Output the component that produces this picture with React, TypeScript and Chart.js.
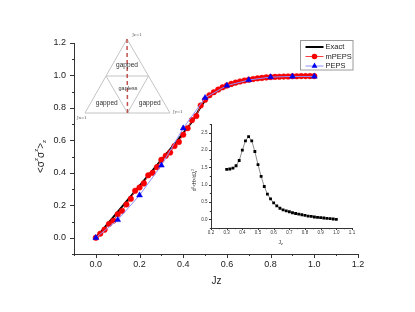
import React, { useEffect, useRef } from 'react';
import { Chart, registerables } from 'chart.js';

Chart.register(...registerables);

// ---- Main chart data ----
const exactJz = [0, 0.1, 0.2, 0.3, 0.4, 0.45, 0.475, 0.5, 0.525, 0.55, 0.6, 0.65, 0.7, 0.8, 0.9, 1.0];
const exactVal = [0, 0.16, 0.32, 0.48, 0.645, 0.735, 0.795, 0.845, 0.88, 0.9, 0.93, 0.952, 0.968, 0.985, 0.994, 0.998];

const mpepsJz = [0, 0.02, 0.04, 0.06, 0.08, 0.1, 0.12, 0.14, 0.16, 0.18, 0.2, 0.22, 0.24, 0.26, 0.28, 0.3, 0.32, 0.34, 0.36, 0.38, 0.4, 0.42, 0.44, 0.46, 0.48, 0.5, 0.52, 0.54, 0.56, 0.58, 0.6, 0.62, 0.64, 0.66, 0.68, 0.7, 0.72, 0.74, 0.76, 0.78, 0.8, 0.82, 0.84, 0.86, 0.88, 0.9, 0.92, 0.94, 0.96, 0.98, 1.0];
const mpepsVal = [0.0, 0.025, 0.05, 0.085, 0.105, 0.145, 0.165, 0.205, 0.24, 0.29, 0.31, 0.335, 0.385, 0.4, 0.435, 0.48, 0.505, 0.525, 0.565, 0.59, 0.635, 0.675, 0.725, 0.75, 0.815, 0.85, 0.878, 0.897, 0.913, 0.927, 0.938, 0.948, 0.956, 0.963, 0.969, 0.974, 0.978, 0.982, 0.985, 0.988, 0.99, 0.991, 0.992, 0.993, 0.994, 0.995, 0.995, 0.996, 0.996, 0.996, 0.996];

const pepsJz = [0, 0.1, 0.2, 0.3, 0.4, 0.5, 0.6, 0.7, 0.8, 0.9, 1.0];
const pepsVal = [0, 0.11, 0.262, 0.446, 0.675, 0.862, 0.938, 0.972, 0.99, 0.994, 0.994];

const seriesLabels = ['Exact', 'mPEPS', 'PEPS'];

// ---- Inset data ----
const insetJz = [0.3, 0.32, 0.34, 0.36, 0.38, 0.4, 0.42, 0.44, 0.46, 0.48, 0.5, 0.52, 0.54, 0.56, 0.58, 0.6, 0.62, 0.64, 0.66, 0.68, 0.7, 0.72, 0.74, 0.76, 0.78, 0.8, 0.82, 0.84, 0.86, 0.88, 0.9, 0.92, 0.94, 0.96, 0.98, 1.0];
const insetVal = [1.445, 1.455, 1.48, 1.55, 1.7, 2.0, 2.27, 2.39, 2.27, 1.96, 1.58, 1.24, 0.95, 0.73, 0.59, 0.475, 0.39, 0.32, 0.276, 0.247, 0.22, 0.19, 0.17, 0.152, 0.133, 0.114, 0.095, 0.086, 0.067, 0.057, 0.048, 0.038, 0.029, 0.019, 0.01, 0.0];

// ---- Diagram texts ----
const diagramRegions = ['gapped', 'gapless', 'gapped', 'gapped'];
const diagramCorners = ['Jz=1', 'Jx=1', 'Jy=1'];

const FONT = 'Arial, "Liberation Sans", sans-serif';
const AXIS = '#333';

function pts(xs: number[], ys: number[]) {
  return xs.map((x, i) => ({ x, y: ys[i] }));
}

function drawTickMarks(chart: any, majorLen: number, minorLen: number) {
  const ctx = chart.ctx;
  const xs = chart.scales.x;
  const ys = chart.scales.y;
  const ca = chart.chartArea;
  ctx.save();
  ctx.strokeStyle = AXIS;
  ctx.lineWidth = 1;
  ctx.beginPath();
  xs.ticks.forEach((t: any) => {
    const px = Math.round(xs.getPixelForValue(t.value)) + 0.5;
    const len = t.label !== '' ? majorLen : minorLen;
    ctx.moveTo(px, ca.bottom);
    ctx.lineTo(px, ca.bottom + len);
  });
  ys.ticks.forEach((t: any) => {
    const py = Math.round(ys.getPixelForValue(t.value)) + 0.5;
    const len = t.label !== '' ? majorLen : minorLen;
    ctx.moveTo(ca.left, py);
    ctx.lineTo(ca.left - len, py);
  });
  ctx.stroke();
  ctx.restore();
}

function drawSegments(ctx: any, cx: number, cy: number, parts: [string, string, number][], rotate: boolean) {
  ctx.save();
  ctx.translate(cx, cy);
  if (rotate) ctx.rotate(-Math.PI / 2);
  let total = 0;
  parts.forEach((p) => {
    ctx.font = p[1];
    total += ctx.measureText(p[0]).width;
  });
  let x = -total / 2;
  ctx.textBaseline = 'middle';
  ctx.textAlign = 'left';
  ctx.fillStyle = '#222';
  parts.forEach((p) => {
    ctx.font = p[1];
    ctx.fillText(p[0], x, p[2]);
    x += ctx.measureText(p[0]).width;
  });
  ctx.restore();
}

const mainPlugin = {
  id: 'mainDeco',
  beforeDatasetsDraw(chart: any) {
    const ctx = chart.ctx;
    const ca = chart.chartArea;
    // phase diagram (decorative inset image), positioned relative to chart area
    const ax = ca.left + 53, ay = ca.top - 4;
    const lx = ca.left + 11, ly = ca.top + 70;
    const rx = ca.left + 96, ry = ca.top + 70;
    const mlx = (ax + lx) / 2, mly = (ay + ly) / 2;
    const mrx = (ax + rx) / 2, mry = (ay + ry) / 2;
    const mbx = (lx + rx) / 2, mby = ly;
    ctx.save();
    ctx.strokeStyle = '#c4c4c4';
    ctx.lineWidth = 1;
    ctx.beginPath();
    ctx.moveTo(ax, ay); ctx.lineTo(lx, ly); ctx.lineTo(rx, ry); ctx.closePath();
    ctx.moveTo(mlx, mly); ctx.lineTo(mrx, mry); ctx.lineTo(mbx, mby); ctx.closePath();
    ctx.stroke();
    ctx.strokeStyle = '#c0504d';
    ctx.lineWidth = 1.5;
    ctx.setLineDash([4, 3]);
    ctx.beginPath();
    ctx.moveTo(ax, ay); ctx.lineTo(mbx, mby);
    ctx.stroke();
    ctx.setLineDash([]);
    ctx.fillStyle = '#333';
    ctx.textAlign = 'center';
    ctx.textBaseline = 'middle';
    ctx.font = `6.6px ${FONT}`;
    ctx.fillText(diagramRegions[0], ax, ay + 26);
    ctx.font = `5.5px ${FONT}`;
    ctx.fillText(diagramRegions[1], ax + 1, mly + 12);
    ctx.font = `6.6px ${FONT}`;
    ctx.fillText(diagramRegions[2], (lx + mbx) / 2 + 0.5, ly - 10);
    ctx.fillText(diagramRegions[3], (mbx + rx) / 2 + 1, ly - 10);
    ctx.font = `4px "DejaVu Serif", serif`;
    ctx.fillStyle = '#555';
    ctx.fillText(diagramCorners[0], ax + 10, ay - 4);
    ctx.fillText(diagramCorners[1], lx - 3, ly + 5);
    ctx.fillText(diagramCorners[2], rx + 8, ry - 1);
    ctx.restore();
  },
  afterDraw(chart: any) {
    const ctx = chart.ctx;
    const ca = chart.chartArea;
    drawTickMarks(chart, 4, 2);
    // axis titles
    drawSegments(ctx, ca.left - 33, (ca.top + ca.bottom) / 2 + 8, [
      ['<σ', `10px ${FONT}`, 0],
      ['z', `6px ${FONT}`, -4.5],
      ['σ', `10px ${FONT}`, 0],
      ['z', `6px ${FONT}`, -4.5],
      ['>', `10px ${FONT}`, 0],
      ['z', `6px ${FONT}`, 3.5],
    ], true);
    drawSegments(ctx, (ca.left + ca.right) / 2 + 0.5, ca.bottom + 27, [['Jz', `10px ${FONT}`, 0]], false);

    // legend
    const bx = ca.right - 57.5, by = ca.top - 2.5, bw = 52.5, bh = 29.5;
    ctx.save();
    ctx.fillStyle = '#fff';
    ctx.fillRect(bx, by, bw, bh);
    ctx.strokeStyle = '#9a9a9a';
    ctx.lineWidth = 1;
    ctx.strokeRect(bx, by, bw, bh);
    const dsList = chart.data.datasets;
    dsList.forEach((ds: any, i: number) => {
      const yy = by + 6.5 + i * 9.5;
      const x0 = bx + 5, x1 = bx + 23;
      ctx.strokeStyle = ds.borderColor;
      ctx.lineWidth = ds.borderWidth;
      ctx.beginPath();
      ctx.moveTo(x0, yy); ctx.lineTo(x1, yy);
      ctx.stroke();
      const mx = (x0 + x1) / 2;
      ctx.fillStyle = ds.pointBackgroundColor;
      if (ds.pointStyle === 'circle' && ds.pointRadius > 0) {
        ctx.beginPath();
        ctx.arc(mx, yy, ds.pointRadius, 0, Math.PI * 2);
        ctx.fill();
      } else if (ds.pointStyle === 'triangle' && ds.pointRadius > 0) {
        const r = ds.pointRadius;
        ctx.beginPath();
        ctx.moveTo(mx, yy - r);
        ctx.lineTo(mx + r * 0.866, yy + r * 0.5);
        ctx.lineTo(mx - r * 0.866, yy + r * 0.5);
        ctx.closePath();
        ctx.fill();
      }
      ctx.fillStyle = '#222';
      ctx.font = `7.5px ${FONT}`;
      ctx.textAlign = 'left';
      ctx.textBaseline = 'middle';
      ctx.fillText(ds.label, x1 + 2, yy);
    });
    ctx.restore();
  },
};

const insetPlugin = {
  id: 'insetDeco',
  afterDraw(chart: any) {
    const ctx = chart.ctx;
    const ca = chart.chartArea;
    drawTickMarks(chart, 2, 1.2);
    drawSegments(ctx, ca.left - 16, (ca.top + ca.bottom) / 2 + 4, [
      ['d', `4.5px ${FONT}`, 0],
      ['2', `3px ${FONT}`, -1.6],
      ['<H>/dJ', `4.5px ${FONT}`, 0],
      ['z', `3px ${FONT}`, 1.2],
      ['2', `3px ${FONT}`, -1.6],
    ], true);
    drawSegments(ctx, (ca.left + ca.right) / 2 - 1, ca.bottom + 14.5, [
      ['J', `5px ${FONT}`, 0],
      ['z', `3.5px ${FONT}`, 1.2],
    ], false);
  },
};

function axisTicks(decimals: number, step: number, every: number) {
  return (v: any) => {
    const k = Math.round(Number(v) / step);
    if (k % every !== 0) return '';
    return (k * step).toFixed(decimals);
  };
}

export default function App() {
  const mainRef = useRef<HTMLCanvasElement>(null);
  const insetRef = useRef<HTMLCanvasElement>(null);

  useEffect(() => {
    Chart.defaults.font.family = FONT;
    Chart.defaults.color = '#222';

    const main = new Chart(mainRef.current as HTMLCanvasElement, {
      type: 'scatter',
      data: {
        datasets: [
          {
            label: seriesLabels[0],
            data: pts(exactJz, exactVal),
            showLine: true,
            borderColor: '#000',
            borderWidth: 2,
            pointRadius: 0,
            pointStyle: 'line',
            pointBackgroundColor: '#000',
            cubicInterpolationMode: 'monotone',
            order: 3,
          },
          {
            label: seriesLabels[1],
            data: pts(mpepsJz, mpepsVal),
            showLine: true,
            borderColor: '#ff4040',
            borderWidth: 1,
            pointRadius: 2.8,
            pointStyle: 'circle',
            pointBackgroundColor: '#f80000',
            pointBorderColor: '#f80000',
            pointBorderWidth: 0.5,
            order: 2,
          },
          {
            label: seriesLabels[2],
            data: pts(pepsJz, pepsVal),
            showLine: true,
            borderColor: '#9090ff',
            borderWidth: 1,
            pointRadius: 3.4,
            pointStyle: 'triangle',
            pointBackgroundColor: '#0000f0',
            pointBorderColor: '#0000f0',
            pointBorderWidth: 0.5,
            order: 1,
          },
        ] as any,
      },
      options: {
        responsive: false,
        animation: false,
        events: [],
        layout: { padding: { top: 43, right: 57, left: 0, bottom: 0 } },
        plugins: { legend: { display: false }, tooltip: { enabled: false } },
        scales: {
          x: {
            type: 'linear',
            min: -0.1,
            max: 1.2,
            grid: { display: false, drawTicks: false },
            border: { display: true, color: AXIS, width: 1 },
            ticks: {
              stepSize: 0.1,
              autoSkip: false,
              maxRotation: 0,
              padding: 5,
              color: '#222',
              font: { size: 9, family: FONT },
              callback: axisTicks(1, 0.1, 2),
            },
            afterFit: (s: any) => { s.height = 58; },
          },
          y: {
            type: 'linear',
            min: -0.1,
            max: 1.2,
            grid: { display: false, drawTicks: false },
            border: { display: true, color: AXIS, width: 1 },
            ticks: {
              stepSize: 0.1,
              autoSkip: false,
              padding: 8,
              color: '#222',
              font: { size: 9, family: FONT },
              callback: axisTicks(1, 0.1, 2),
            },
            afterFit: (s: any) => { s.width = 74; },
          },
        },
      } as any,
      plugins: [mainPlugin],
    });

    const inset = new Chart(insetRef.current as HTMLCanvasElement, {
      type: 'scatter',
      data: {
        datasets: [
          {
            label: 'inset',
            data: pts(insetJz, insetVal),
            showLine: true,
            borderColor: '#707070',
            borderWidth: 0.8,
            pointRadius: 2,
            pointStyle: 'rect',
            pointBackgroundColor: '#000',
            pointBorderColor: '#000',
            pointBorderWidth: 0,
          },
        ] as any,
      },
      options: {
        responsive: false,
        animation: false,
        events: [],
        layout: { padding: { top: 5, right: 8, left: 0, bottom: 0 } },
        plugins: { legend: { display: false }, tooltip: { enabled: false } },
        scales: {
          x: {
            type: 'linear',
            min: 0.2,
            max: 1.1,
            grid: { display: false, drawTicks: false },
            border: { display: true, color: AXIS, width: 1 },
            ticks: {
              stepSize: 0.05,
              autoSkip: false,
              maxRotation: 0,
              padding: 2,
              color: '#333',
              font: { size: 4.5, family: FONT },
              callback: axisTicks(1, 0.05, 2),
            },
            afterFit: (s: any) => { s.height = 22; },
          },
          y: {
            type: 'linear',
            min: -0.25,
            max: 2.75,
            grid: { display: false, drawTicks: false },
            border: { display: true, color: AXIS, width: 1 },
            ticks: {
              stepSize: 0.25,
              autoSkip: false,
              padding: 3.5,
              color: '#333',
              font: { size: 4.5, family: FONT },
              callback: axisTicks(1, 0.25, 2),
            },
            afterFit: (s: any) => { s.width = 26; },
          },
        },
      } as any,
      plugins: [insetPlugin],
    });

    return () => {
      main.destroy();
      inset.destroy();
    };
  }, []);

  return (
    <div style={{ position: 'fixed', left: 0, top: 0, width: 415, height: 312, background: '#fff' }}>
      <canvas ref={mainRef} width={415} height={312} style={{ position: 'absolute', left: 0, top: 0, width: 415, height: 312 }} />
      <canvas ref={insetRef} width={175} height={132} style={{ position: 'absolute', left: 185, top: 118, width: 175, height: 132 }} />
    </div>
  );
}
